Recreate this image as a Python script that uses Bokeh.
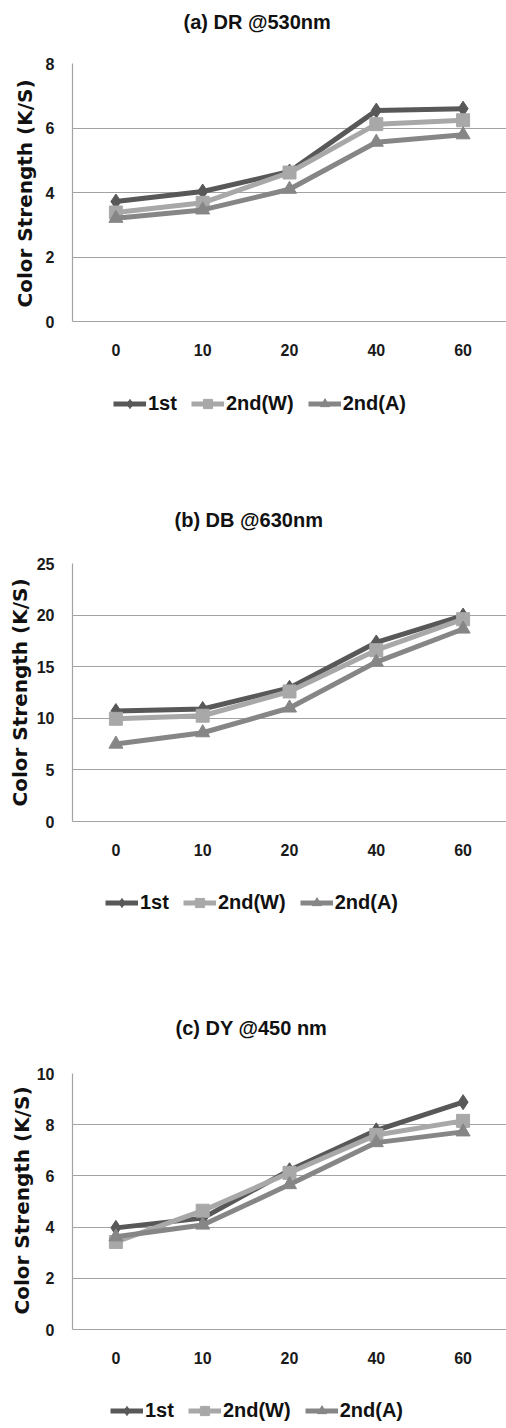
from bokeh.plotting import figure
from bokeh.models import FactorRange, Range1d, FixedTicker, Legend, LegendItem, Title
from bokeh.layouts import column
from bokeh.embed import file_html
from bokeh.resources import INLINE

# ---- data ----
times = ["0", "10", "20", "40", "60"]
series_names = ["1st", "2nd(W)", "2nd(A)"]

dr_1st = [3.72, 4.03, 4.65, 6.54, 6.6]
dr_2w = [3.38, 3.68, 4.62, 6.12, 6.24]
dr_2a = [3.2, 3.46, 4.1, 5.56, 5.79]

db_1st = [10.7, 10.9, 12.95, 17.35, 19.95]
db_2w = [9.95, 10.25, 12.6, 16.6, 19.6]
db_2a = [7.5, 8.6, 11.0, 15.45, 18.65]

dy_1st = [3.97, 4.35, 6.22, 7.78, 8.88]
dy_2w = [3.42, 4.64, 6.12, 7.6, 8.15]
dy_2a = [3.62, 4.08, 5.66, 7.3, 7.72]

titles = ["(a) DR @530nm", "(b) DB @630nm", "(c)  DY @450 nm"]
y_label = "Color  Strength (K/S)"
y_max = [8, 25, 10]
y_step = [2, 5, 2]

# ---- style ----
COLORS = ["#585858", "#a8a8a8", "#868686"]
MARKERS = ["diamond", "square", "triangle"]
MSIZES = [15, 13, 14]
FONT = "Liberation Sans"
GRID = "#a3a3a3"
LEFT = 72


def make_panel(title, ymax, ystep, series, height, btop, frame_h,
               ylab_standoff, ylab_offset, title_offset, spacer_top,
               legend_x, legend_y):
    below0 = height - btop - frame_h          # space under the value 0
    ystart = -ymax * below0 / frame_h
    p = figure(x_range=FactorRange(*times), y_range=Range1d(ystart, ymax),
               width=506, height=height, output_backend="svg",
               toolbar_location=None, min_border_top=btop,
               min_border_bottom=0, min_border_left=LEFT,
               min_border_right=0)
    p.outline_line_color = None
    p.xgrid.grid_line_color = None
    ticker = FixedTicker(ticks=list(range(0, ymax + 1, ystep)))
    p.yaxis.ticker = ticker
    p.ygrid.ticker = ticker
    p.ygrid.grid_line_color = GRID
    p.ygrid.grid_line_width = 1.2
    p.yaxis.bounds = (0, ymax)
    p.xaxis.fixed_location = 0

    for ax in (p.xaxis[0], p.yaxis[0]):
        ax.axis_line_color = GRID
        ax.axis_line_width = 1.2
        ax.major_tick_line_color = None
        ax.minor_tick_line_color = None
        ax.major_tick_out = 0
        ax.major_tick_in = 0
        ax.minor_tick_out = 0
        ax.minor_tick_in = 0
        ax.major_label_text_font = FONT
        ax.major_label_text_font_style = "bold"
        ax.major_label_text_font_size = "16px"
        ax.major_label_text_color = "#1a1a1a"
    p.xaxis.major_label_standoff = 22
    p.yaxis.major_label_standoff = 18

    items = []
    for name, vals, col, mk, ms in zip(series_names, series, COLORS, MARKERS, MSIZES):
        r1 = p.line(times, vals, line_color=col, line_width=5)
        r2 = p.scatter(times, vals, marker=mk, size=ms, fill_color=col,
                       line_color=col)
        items.append(LegendItem(label=name, renderers=[r1, r2]))

    leg = Legend(items=items, orientation="horizontal",
                 location=(legend_x, legend_y),
                 margin=0, padding=0, spacing=14, label_standoff=2,
                 glyph_width=33, glyph_height=23, label_height=23,
                 background_fill_alpha=0, border_line_color=None,
                 label_text_font=FONT, label_text_font_style="bold",
                 label_text_font_size="20px", label_text_color="#111111")
    p.add_layout(leg, "center")

    # y axis title (left of the tick labels)
    p.add_layout(Title(text=y_label, align="left", offset=ylab_offset,
                       text_font="DejaVu Sans", text_font_style="bold",
                       text_font_size="20px", text_color="#111111",
                       standoff=ylab_standoff), "left")

    # spacer between frame and title, then title (above)
    p.add_layout(Title(text=" ", text_font_size="2px", standoff=spacer_top), "above")
    p.add_layout(Title(text=title, align="left", offset=title_offset,
                       text_font=FONT, text_font_style="bold",
                       text_font_size="20px", text_color="#111111",
                       standoff=0), "above")
    return p


pa = make_panel(titles[0], y_max[0], y_step[0], [dr_1st, dr_2w, dr_2a],
                468, 63, 258, 11, 161, 111, 27, 41, 53)
pb = make_panel(titles[1], y_max[1], y_step[1], [db_1st, db_2w, db_2a],
                500, 95, 258, 3, 162, 102, 29, 33, 54)
pc = make_panel(titles[2], y_max[2], y_step[2], [dy_1st, dy_2w, dy_2a],
                460, 105, 256, 0, 114, 103, 31, 38, 6)

layout = column(pa, pb, pc, spacing=0)
open("out.html", "w").write(file_html(layout, INLINE))
